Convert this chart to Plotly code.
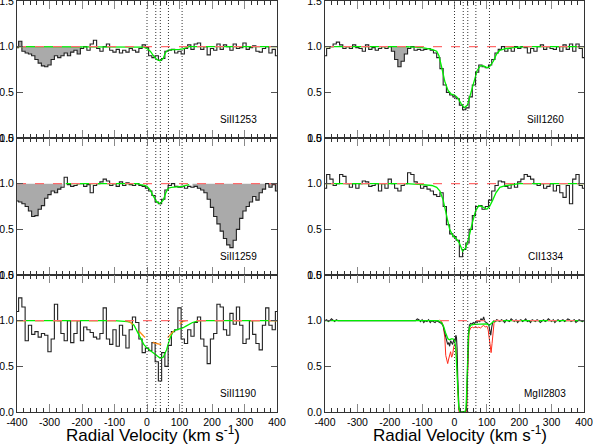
import plotly.graph_objects as go
from plotly.subplots import make_subplots

# ---------------- data ----------------
vel = list(range(-400, 401, 10))

siII1253 = [0.99, 1.06, 0.95, 0.93, 0.92, 0.90, 0.86, 0.82, 0.79, 0.78,
            0.80, 0.86, 0.90, 0.88, 0.90, 0.93, 0.90, 0.94, 0.96, 0.92,
            0.98, 1.00, 0.96, 1.03, 1.07, 0.98, 0.95, 1.00, 1.03, 0.96,
            0.94, 0.97, 0.93, 0.96, 0.94, 0.98, 0.96, 0.94, 0.98, 1.02,
            0.99, 0.90, 0.88, 0.90, 0.85, 0.87, 0.95, 0.96, 0.97, 0.93,
            0.95, 0.92, 0.98, 1.02, 0.97, 1.03, 1.04, 0.97, 1.00, 0.91,
            0.98, 0.96, 1.03, 0.97, 1.02, 1.00, 0.96, 1.03, 0.98, 0.99,
            1.04, 0.97, 0.99, 1.01, 0.95, 0.94, 0.98, 1.00, 0.93, 0.97, 0.90]

siII1259 = [0.81, 0.80, 0.78, 0.75, 0.70, 0.64, 0.65, 0.72, 0.76, 0.84,
            0.88, 0.92, 0.90, 0.94, 0.96, 1.07, 0.99, 0.97, 0.98, 1.00,
            1.00, 0.97, 0.99, 0.90, 0.98, 1.00, 1.02, 1.05, 1.03, 0.98,
            1.00, 0.97, 1.02, 0.98, 1.01, 0.99, 0.98, 1.00, 0.98, 0.97,
            0.95, 0.92, 0.87, 0.80, 0.78, 0.83, 0.93, 0.98, 1.00, 0.97,
            0.96, 0.97, 0.95, 0.97, 0.96, 0.97, 0.95, 0.93, 0.90, 0.83,
            0.74, 0.64, 0.56, 0.48, 0.40, 0.33, 0.30, 0.38, 0.50, 0.62,
            0.70, 0.75, 0.80, 0.86, 0.82, 0.90, 0.94, 1.00, 0.96, 0.99, 0.92]

siII1190 = [1.10, 1.25, 1.15, 0.78, 0.95, 0.85, 0.88, 0.82, 0.86, 0.84,
            0.66, 0.80, 1.18, 1.00, 0.86, 0.78, 1.00, 0.76, 0.86, 1.00,
            0.78, 0.93, 0.90, 0.87, 0.82, 0.80, 0.86, 1.14, 0.80, 0.74,
            0.90, 0.72, 0.95, 0.84, 0.70, 0.90, 1.04, 0.98, 0.80, 0.65,
            0.70, 0.67, 0.76, 0.55, 0.34, 0.65, 0.50, 0.73, 0.88, 0.90,
            1.14, 0.80, 0.75, 0.90, 0.83, 0.98, 1.04, 0.80, 0.72, 0.53,
            0.80, 0.86, 1.18, 1.15, 0.90, 0.84, 1.08, 0.96, 1.15, 0.95,
            0.75, 0.80, 1.00, 0.85, 0.75, 0.68, 0.95, 1.14, 0.95, 0.90, 1.10]

siII1260 = [0.90, 0.98, 1.00, 1.03, 1.05, 1.02, 0.98, 1.00, 0.98, 1.02,
            0.99, 0.98, 0.95, 1.02, 0.97, 0.99, 0.96, 0.98, 1.00, 0.98,
            1.00, 0.95, 0.86, 0.78, 0.84, 0.92, 0.98, 1.00, 0.96, 0.97,
            0.96, 0.97, 0.98, 0.96, 0.93, 0.88, 0.76, 0.58, 0.50, 0.47,
            0.45, 0.43, 0.36, 0.31, 0.33, 0.45, 0.58, 0.72, 0.80, 0.78,
            0.77, 0.80, 0.86, 0.93, 0.97, 1.00, 0.95, 0.98, 0.95, 1.00,
            0.98, 1.00, 0.99, 0.93, 0.98, 0.95, 1.00, 1.02, 0.97, 1.00,
            0.98, 0.97, 1.00, 0.95, 1.02, 0.97, 1.03, 0.95, 1.03, 0.98, 0.88]

cII1334 = [0.95, 1.10, 1.05, 0.98, 1.00, 1.10, 1.08, 1.00, 0.96, 1.00,
           0.95, 1.00, 1.03, 1.02, 0.97, 0.98, 1.00, 0.92, 1.00, 0.95,
           1.05, 1.00, 0.95, 0.92, 0.98, 1.00, 1.12, 1.10, 1.02, 1.00,
           0.95, 0.97, 0.94, 0.92, 0.88, 0.86, 0.90, 0.75, 0.55, 0.45,
           0.42, 0.38, 0.20, 0.28, 0.35, 0.50, 0.65, 0.75, 0.76, 0.72,
           0.75, 0.82, 0.92, 0.98, 1.03, 1.02, 0.97, 0.95, 1.00, 0.96,
           1.02, 1.05, 1.10, 1.08, 1.05, 1.00, 0.98, 1.00, 0.95, 0.97,
           1.00, 0.92, 0.98, 0.90, 0.85, 0.98, 0.78, 1.05, 1.10, 0.98, 0.95]

# MgII 2803 (higher resolution spectrum)
mg_v = [-400, -395, -390, -385, -380, -375, -370, -365, -360,
        -120, -115, -110, -105, -100, -95, -90, -85, -80, -75, -70, -65, -60, -55, -50, -45,
        -40, -35, -30, -27, -24, -21, -18, -15, -12, -9, -6, -3, 0, 2, 4, 6, 8,
        10, 12, 14, 17, 20, 24, 28, 32, 35, 37, 39, 41, 43, 46, 50, 54, 58, 62,
        66, 70, 74, 78, 82, 86, 90, 94, 98, 102, 106, 109, 112, 115, 118, 122, 126, 130,
        135, 140, 145, 150, 155, 160, 165, 170, 175, 180, 185, 190, 195, 200,
        205, 210, 215, 220, 225, 230, 235, 240, 245, 250, 255, 260, 265, 270,
        275, 280, 285, 290, 295, 300, 305, 310, 315, 320, 325, 330, 335, 340,
        345, 350, 355, 360, 365, 370, 375, 380, 385, 390, 395, 400]
mg_black = [1.00, 1.01, 0.99, 1.00, 1.02, 1.00, 0.99, 1.01, 1.00,
            1.00, 1.02, 1.01, 0.99, 1.01, 0.98, 1.00, 0.99, 1.01, 0.98, 1.00, 0.99, 0.98, 1.00, 0.99, 0.98,
            0.97, 0.94, 0.88, 0.82, 0.78, 0.74, 0.76, 0.72, 0.78, 0.76, 0.74, 0.78, 0.80, 0.77, 0.84, 0.82, 0.70,
            0.38, 0.12, 0.03, 0.00, 0.00, 0.00, 0.00, 0.00, 0.01, 0.05, 0.30, 0.60, 0.85, 0.95, 0.97, 0.96, 0.98, 0.97,
            0.99, 0.98, 1.00, 0.99, 1.02, 1.00, 1.04, 0.99, 0.98, 0.97, 0.95, 0.88, 0.84, 0.93, 0.98, 1.00, 0.99, 1.01,
            1.00, 0.99, 1.01, 1.00, 0.98, 1.01, 1.00, 0.99, 1.02, 1.00, 0.99, 1.01, 0.98, 1.00,
            1.01, 0.99, 1.00, 1.02, 0.99, 1.00, 0.98, 1.01, 1.00, 0.99, 1.01, 1.00, 0.98, 1.00,
            1.01, 0.99, 1.00, 1.02, 1.00, 0.99, 1.01, 0.98, 1.00, 1.01, 0.99, 1.00, 1.01, 0.99,
            1.00, 1.02, 1.01, 0.99, 1.00, 1.01, 0.98, 1.00, 1.01, 1.00, 0.99, 1.00]

mg_red_v = [-45, -40, -35, -30, -27, -24, -21, -18, -15, -12, -9, -6, -3, 0, 3, 6, 8,
            10, 12, 14, 36, 38, 40, 42, 45, 50, 55, 60, 65, 70, 75, 80, 85, 90, 95, 100,
            104, 107, 110, 113, 116, 119, 122, 126, 130, 135]
mg_red = [1.01, 0.99, 0.95, 0.82, 0.62, 0.55, 0.53, 0.58, 0.62, 0.66, 0.60, 0.62, 0.70, 0.74, 0.72, 0.65, 0.55,
          0.25, 0.05, 0.00, 0.00, 0.05, 0.35, 0.70, 0.88, 0.92, 0.93, 0.92, 0.94, 0.92, 0.93, 0.92, 0.94, 0.95, 0.93, 0.94,
          0.90, 0.80, 0.68, 0.65, 0.75, 0.92, 0.97, 0.99, 1.00, 1.01]

# Voigt-profile fits (green)
fit1253_v = [-400, -20, -10, 0, 10, 20, 30, 40, 50, 55, 60, 70, 80, 90, 100, 110, 120, 130, 400]
fit1253 = [1.0, 1.0, 0.995, 0.98, 0.95, 0.90, 0.86, 0.845, 0.87, 0.92, 0.95, 0.965, 0.965, 0.965, 0.97, 0.975, 0.99, 1.0, 1.0]

fit1259_v = [-250, -30, -20, -10, 0, 10, 20, 30, 40, 50, 58, 65, 75, 90, 105, 110, 120, 130]
fit1259 = [1.0, 1.0, 0.99, 0.985, 0.97, 0.93, 0.86, 0.80, 0.78, 0.82, 0.90, 0.95, 0.96, 0.965, 0.965, 0.97, 0.98, 0.99]

fit1190_v = [-400, -100, -60, -50, -40, -30, -20, -10, 0, 10, 20, 30, 40, 50, 60, 70, 80, 90, 100, 110, 120, 130, 140, 150, 160, 400]
fit1190 = [1.0, 1.0, 0.99, 0.98, 0.95, 0.88, 0.80, 0.74, 0.70, 0.67, 0.64, 0.62, 0.59, 0.60, 0.68, 0.80, 0.88, 0.90, 0.91, 0.92, 0.94, 0.96, 0.98, 0.99, 1.0, 1.0]
comp1190_v = [-400, -60, -50, -40, -30, -20, -10, 0, 10, 20, 30, 40, 50, 60, 70, 80, 90, 100, 110, 120, 400]
comp1190 = [1.0, 1.0, 0.98, 0.94, 0.90, 0.86, 0.83, 0.80, 0.78, 0.76, 0.75, 0.74, 0.76, 0.80, 0.85, 0.89, 0.92, 0.96, 0.99, 1.0, 1.0]

fit1260_v = [-400, -150, -100, -70, -55, -48, -40, -30, -20, -10, 0, 10, 20, 30, 40, 50, 60, 70, 80, 90, 100, 108, 120, 130, 140, 160, 180, 220, 400]
fit1260 = [1.0, 1.0, 0.99, 0.97, 0.95, 0.90, 0.78, 0.62, 0.52, 0.48, 0.47, 0.44, 0.38, 0.33, 0.36, 0.48, 0.62, 0.74, 0.79, 0.79, 0.77, 0.78, 0.84, 0.92, 0.96, 0.98, 0.99, 1.0, 1.0]

fit1334_v = [-400, -150, -100, -70, -55, -45, -35, -25, -15, -5, 5, 15, 25, 35, 45, 55, 65, 75, 85, 100, 108, 118, 128, 140, 160, 200, 400]
fit1334 = [1.0, 1.0, 0.99, 0.98, 0.96, 0.92, 0.82, 0.65, 0.50, 0.43, 0.40, 0.35, 0.26, 0.30, 0.42, 0.57, 0.70, 0.76, 0.75, 0.72, 0.75, 0.82, 0.90, 0.96, 0.98, 1.0, 1.0]

fitmg_v = [-400, -50, -40, -33, -28, -24, -20, -15, -10, -5, 0, 4, 7, 10, 13, 16, 20, 32, 35, 37, 39, 41, 43, 46, 50, 60, 80, 100, 108, 112, 120, 130, 400]
fitmg = [1.0, 1.0, 0.98, 0.93, 0.87, 0.83, 0.80, 0.79, 0.80, 0.80, 0.79, 0.70, 0.50, 0.25, 0.06, 0.01, 0.0, 0.0, 0.03, 0.15, 0.40, 0.65, 0.83, 0.92, 0.95, 0.96, 0.965, 0.965, 0.95, 0.96, 0.99, 1.0, 1.0]

component_v = [0, 27, 41, 66, 108]
labels = ["SiII1253", "SiII1260", "SiII1259", "CII1334", "SiII1190", "MgII2803"]
blend_ranges = {"SiII1253": [(-400, -200)], "SiII1259": [(-400, -260), (140, 400)],
                "SiII1260": [(-200, -140)]}
cont_range = {"MgII2803": (-45, 400)}
y_ticks = [0.0, 0.5, 1.0, 1.5]
x_ticks = [-400, -300, -200, -100, 0, 100, 200, 300, 400]
x_ticktext = ["-400", "-300", "-200", "-100", "0", "100", "200", "300", "400"]

# ---------------- figure ----------------
fig = make_subplots(rows=3, cols=2)

FONT = "Liberation Sans, Arial, sans-serif"
GREEN = "#00ee00"
RED_D = "#ff6b6b"
ORANGE = "#ff8c1a"

spectra = {"SiII1253": siII1253, "SiII1259": siII1259, "SiII1190": siII1190,
           "SiII1260": siII1260, "CII1334": cII1334}
fits = {"SiII1253": (fit1253_v, fit1253), "SiII1259": (fit1259_v, fit1259),
        "SiII1190": (fit1190_v, fit1190), "SiII1260": (fit1260_v, fit1260),
        "CII1334": (fit1334_v, fit1334), "MgII2803": (fitmg_v, fitmg)}

for i, name in enumerate(labels):
    r, c = i // 2 + 1, i % 2 + 1
    # gray blended regions
    if name in blend_ranges:
        for lo, hi in blend_ranges[name]:
            xs = [v for v in vel if lo <= v <= hi]
            ys = [spectra[name][k] for k, v in enumerate(vel) if lo <= v <= hi]
            fig.add_trace(go.Scatter(x=xs, y=[1.0] * len(xs), mode="lines", line=dict(width=0, shape="hvh"),
                                     showlegend=False, hoverinfo="skip"), row=r, col=c)
            fig.add_trace(go.Scatter(x=xs, y=ys, mode="lines", line=dict(width=0, shape="hvh"),
                                     fill="tonexty", fillcolor="#aaaaaa", showlegend=False,
                                     hoverinfo="skip"), row=r, col=c)
    # data
    if name == "MgII2803":
        fig.add_trace(go.Scatter(x=mg_red_v, y=mg_red, mode="lines", line=dict(color="#ff2a1a", width=1),
                                 showlegend=False), row=r, col=c)
        fig.add_trace(go.Scatter(x=mg_v, y=mg_black, mode="lines", line=dict(color="#222222", width=1.1),
                                 showlegend=False), row=r, col=c)
    else:
        fig.add_trace(go.Scatter(x=vel, y=spectra[name], mode="lines",
                                 line=dict(color="#222222", width=1.1, shape="hvh"),
                                 showlegend=False), row=r, col=c)
    # fit
    fv, fy = fits[name]
    fig.add_trace(go.Scatter(x=fv, y=fy, mode="lines", line=dict(color=GREEN, width=1.3),
                             showlegend=False), row=r, col=c)
    if name == "SiII1190":
        fig.add_trace(go.Scatter(x=comp1190_v, y=comp1190, mode="lines",
                                 line=dict(color=ORANGE, width=1.3, dash="dash"),
                                 showlegend=False), row=r, col=c)
    # continuum
    lo, hi = cont_range.get(name, (-400, 400))
    fig.add_trace(go.Scatter(x=[lo, hi], y=[1.0, 1.0], mode="lines",
                             line=dict(color=RED_D, width=1.4, dash="dash"),
                             showlegend=False), row=r, col=c)
    # component markers
    for v in component_v:
        fig.add_vline(x=v, line=dict(color="#333333", width=1, dash="1px,2px"), row=r, col=c)
    # label
    fig.add_annotation(x=280, y=0.2, text=name, showarrow=False,
                       font=dict(size=10, color="black", family=FONT), row=r, col=c)

xdom = {1: [17 / 593, 277 / 593], 2: [325 / 593, 584 / 593]}
ydom = {1: [1 - 138 / 445, 1 - 1 / 445], 2: [1 - 275 / 445, 1 - 138 / 445], 3: [1 - 412 / 445, 1 - 275 / 445]}

for r in range(1, 4):
    for c in range(1, 3):
        fig.update_xaxes(row=r, col=c, domain=xdom[c], range=[-400, 400], tickvals=x_ticks,
                         ticktext=x_ticktext,
                         ticks="inside", ticklen=8, tickcolor="#888888", tickwidth=1,
                         minor=dict(dtick=20, ticks="inside", ticklen=4, tickcolor="#333333"),
                         showline=True, linecolor="#333333", linewidth=1, mirror="ticks",
                         showgrid=False, zeroline=False, showticklabels=(r == 3), automargin=False,
                         ticklabeloverflow="allow",
                         tickfont=dict(size=10.5, color="black", family=FONT))
        fig.update_yaxes(row=r, col=c, domain=ydom[r], range=[0, 1.5], tickvals=y_ticks,
                         tickformat=".1f", ticks="inside", ticklen=6, tickcolor="#555555",
                         showline=True, linecolor="#333333", linewidth=1, mirror="ticks",
                         showgrid=False, zeroline=False, automargin=False,
                         ticklabeloverflow="allow",
                         tickfont=dict(size=10.5, color="black", family=FONT))

title_x = {1: 153 / 593, 2: 460 / 593}
for c in (1, 2):
    fig.add_annotation(xref="paper", yref="paper", x=title_x[c], y=1 - 434 / 445,
                       text="Radial Velocity (km s<sup>-1</sup>)", showarrow=False,
                       font=dict(size=17, color="black", family=FONT),
                       xanchor="center", yanchor="middle")

fig.update_layout(width=593, height=445, margin=dict(l=0, r=0, t=0, b=0, autoexpand=False),
                  paper_bgcolor="white", plot_bgcolor="white", showlegend=False)

fig.write_html("out.html", config={"displayModeBar": False},
               post_script="document.body.style.margin='0';document.body.style.padding='0';"
                           "document.body.style.overflow='hidden';")
